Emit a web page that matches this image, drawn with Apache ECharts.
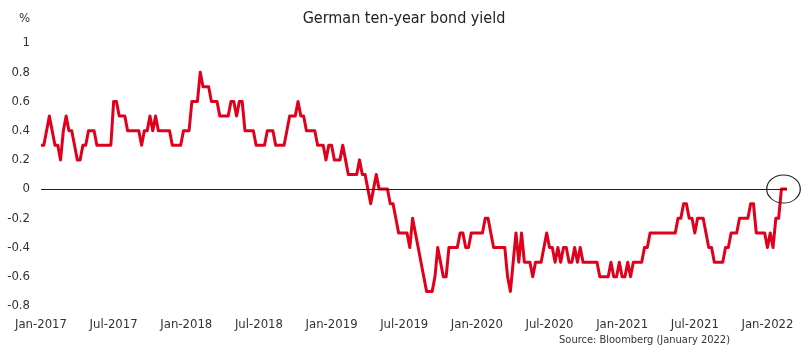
<!DOCTYPE html>
<html>
<head>
<meta charset="utf-8">
<script src="https://cdn.jsdelivr.net/npm/echarts@6/dist/echarts.min.js"></script>
<style>
html,body{margin:0;padding:0;background:#fff;}
#chart{width:808px;height:355px;}
</style>
</head>
<body>
<div id="chart"></div>
<script>
// Weekly German 10-year Bund yield (%)
const yieldValues = [
  0.3,0.3,0.4,0.5,0.4,0.3,0.3,0.2,0.4,0.5,
  0.4,0.4,0.3,0.2,0.2,0.3,0.3,0.4,0.4,0.4,
  0.3,0.3,0.3,0.3,0.3,0.3,0.6,0.6,0.5,0.5,
  0.5,0.4,0.4,0.4,0.4,0.4,0.3,0.4,0.4,0.5,
  0.4,0.5,0.4,0.4,0.4,0.4,0.4,0.3,0.3,0.3,
  0.3,0.4,0.4,0.4,0.6,0.6,0.6,0.8,0.7,0.7,
  0.7,0.6,0.6,0.6,0.5,0.5,0.5,0.5,0.6,0.6,
  0.5,0.6,0.6,0.4,0.4,0.4,0.4,0.3,0.3,0.3,
  0.3,0.4,0.4,0.4,0.3,0.3,0.3,0.3,0.4,0.5,
  0.5,0.5,0.6,0.5,0.5,0.4,0.4,0.4,0.4,0.3,
  0.3,0.3,0.2,0.3,0.3,0.2,0.2,0.2,0.3,0.2,
  0.1,0.1,0.1,0.1,0.2,0.1,0.1,0.0,-0.1,0.0,
  0.1,0.0,0.0,0.0,0.0,-0.1,-0.1,-0.2,-0.3,-0.3,
  -0.3,-0.3,-0.4,-0.2,-0.3,-0.4,-0.5,-0.6,-0.7,-0.7,
  -0.7,-0.6,-0.4,-0.5,-0.6,-0.6,-0.4,-0.4,-0.4,-0.4,
  -0.3,-0.3,-0.4,-0.4,-0.3,-0.3,-0.3,-0.3,-0.3,-0.2,
  -0.2,-0.3,-0.4,-0.4,-0.4,-0.4,-0.4,-0.6,-0.7,-0.5,
  -0.3,-0.5,-0.3,-0.5,-0.5,-0.5,-0.6,-0.5,-0.5,-0.5,
  -0.4,-0.3,-0.4,-0.4,-0.5,-0.4,-0.5,-0.4,-0.4,-0.5,
  -0.5,-0.4,-0.5,-0.4,-0.5,-0.5,-0.5,-0.5,-0.5,-0.5,
  -0.6,-0.6,-0.6,-0.6,-0.5,-0.6,-0.6,-0.5,-0.6,-0.6,
  -0.5,-0.6,-0.5,-0.5,-0.5,-0.5,-0.4,-0.4,-0.3,-0.3,
  -0.3,-0.3,-0.3,-0.3,-0.3,-0.3,-0.3,-0.3,-0.2,-0.2,
  -0.1,-0.1,-0.2,-0.2,-0.3,-0.2,-0.2,-0.2,-0.3,-0.4,
  -0.4,-0.5,-0.5,-0.5,-0.5,-0.4,-0.4,-0.3,-0.3,-0.3,
  -0.2,-0.2,-0.2,-0.2,-0.1,-0.1,-0.3,-0.3,-0.3,-0.3,
  -0.4,-0.3,-0.4,-0.2,-0.2,0,0,0
];

// x tick labels, one every 26 weeks (half-year)
const tickLabels = ['Jan-2017','Jul-2017','Jan-2018','Jul-2018','Jan-2019','Jul-2019',
                    'Jan-2020','Jul-2020','Jan-2021','Jul-2021','Jan-2022'];
const weeksPerTick = 26;

// weekly categories starting first week of January 2017
const startDate = new Date(Date.UTC(2017, 0, 2));
const categories = yieldValues.map((_, i) => {
  const d = new Date(startDate.getTime() + i * 7 * 86400000);
  return d.toISOString().slice(0, 10);
});

const FONT = "'Liberation Sans Narrow','DejaVu Sans Condensed','Roboto',sans-serif";
const TXT = '#333';

const chart = echarts.init(document.getElementById('chart'), null, {renderer: 'canvas'});
chart.setOption({
  animation: false,
  backgroundColor: '#fff',
  title: [
    {text: 'German ten-year bond yield', left: 'center', top: 6,
     textStyle: {fontFamily: FONT, fontSize: 16, fontWeight: 'normal', color: '#222'}},
    {text: '%', left: 14, top: 7,
     textStyle: {fontFamily: FONT, fontSize: 13, fontWeight: 'normal', color: TXT}},
    {text: 'Source: Bloomberg (January 2022)', right: 73, bottom: 4,
     textStyle: {fontFamily: FONT, fontSize: 11, fontWeight: 'normal', color: TXT}}
  ],
  grid: {left: 41, right: 21, top: 43, bottom: 49, containLabel: false},
  xAxis: {
    type: 'category',
    data: categories,
    boundaryGap: false,
    axisLine: {show: false},
    axisTick: {show: false},
    splitLine: {show: false},
    axisLabel: {
      interval: (index) => index % weeksPerTick === 0,
      formatter: (value, index) => tickLabels[Math.round(index / weeksPerTick)] || '',
      fontFamily: FONT, fontSize: 13, color: TXT, margin: 12, hideOverlap: false
    }
  },
  yAxis: {
    type: 'value',
    min: -0.8, max: 1, interval: 0.2,
    axisLine: {show: false},
    axisTick: {show: false},
    splitLine: {show: false},
    axisLabel: {fontFamily: FONT, fontSize: 13, color: TXT, margin: 11}
  },
  series: [{
    type: 'line',
    data: yieldValues,
    showSymbol: false,
    symbol: 'none',
    lineStyle: {color: '#e0001b', width: 3, join: 'round'},
    itemStyle: {color: '#e0001b'},
    markLine: {
      silent: true,
      symbol: ['none', 'none'],
      label: {show: false},
      lineStyle: {color: '#222', width: 1, type: 'solid'},
      data: [{yAxis: 0}]
    },
    z: 3
  }]
});

// annotation ellipse around the latest observation
const lastIdx = yieldValues.length - 1;
const p = chart.convertToPixel({seriesIndex: 0}, [lastIdx, yieldValues[lastIdx]]);
chart.setOption({
  graphic: [{
    type: 'circle',
    shape: {cx: 0, cy: 0, r: 14},
    x: p[0] - 3.5, y: p[1],
    scaleX: 1.2, scaleY: 1,
    style: {fill: 'none', stroke: '#222', lineWidth: 1},
    z: 10, silent: true
  }]
});
</script>
</body>
</html>
